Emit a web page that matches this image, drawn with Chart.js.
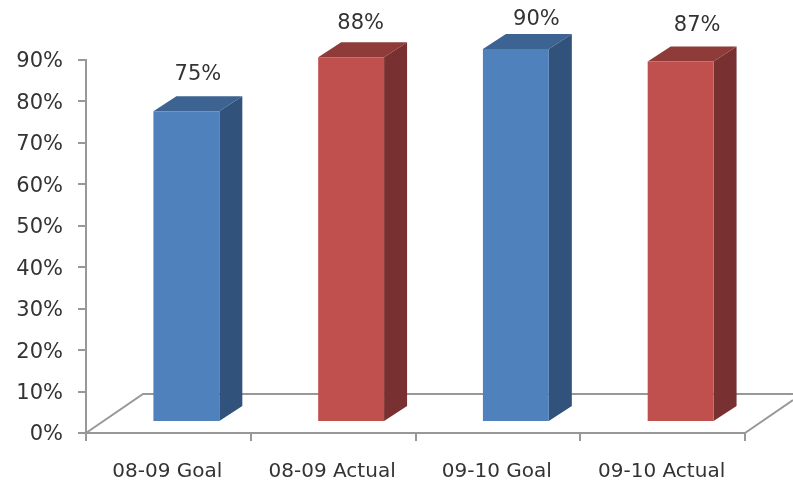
<!DOCTYPE html>
<html lang="en">
<head>
    <meta charset="UTF-8">
    <title>Goal vs Actual</title>
    <script src="https://cdn.jsdelivr.net/npm/chart.js@4/dist/chart.umd.min.js"></script>
    <style>
        html, body { margin: 0; padding: 0; background: #fff; }
        /* the reference is a soft, upscaled image */
        canvas { display: block; filter: blur(0.5px); }
    </style>
</head>
<body>
    <canvas id="goalChart" width="793" height="482"></canvas>
    <script>
        const categories = ['08-09 Goal', '08-09 Actual', '09-10 Goal', '09-10 Actual'];
        const values = [75, 88, 90, 87];
        const frontColors = ['#4f81bd', '#c0504d', '#4f81bd', '#c0504d'];
        const topColors = ['#3c6391', '#8f3b39', '#3c6391', '#8f3b39'];
        const sideColors = ['#31527a', '#783130', '#31527a', '#783130'];

        const textColor = '#333333';
        const axisColor = '#989898';
        const fontFamily = '"DejaVu Sans", sans-serif';

        // bars sit a little inside the floor, so the whole dataset is shifted
        const barShiftX = 18;
        const barShiftY = -11;
        const depthX = 23;
        const depthY = -15;
        const floorX = 57;
        const floorY = -39;
        // small per-label nudges seen in the picture
        const labelNudgeX = [-8, -10, 1, -3];
        const labelNudgeY = [-2, 1, 6, -1];

        function face(ctx, color, points) {
            ctx.fillStyle = color;
            ctx.beginPath();
            points.forEach((p, i) => i ? ctx.lineTo(p[0], p[1]) : ctx.moveTo(p[0], p[1]));
            ctx.closePath();
            ctx.fill();
        }

        const box3d = {
            id: 'box3d',
            beforeDatasetsDraw(chart) {
                // floor of the 3D box
                const { ctx, chartArea, width } = chart;
                const left = chartArea.left, right = chartArea.right, bottom = chartArea.bottom;
                ctx.save();
                ctx.strokeStyle = axisColor;
                ctx.lineWidth = 2;
                ctx.beginPath();
                ctx.moveTo(left, bottom);
                ctx.lineTo(left + floorX, bottom + floorY);
                ctx.lineTo(width, bottom + floorY);
                ctx.moveTo(right, bottom);
                ctx.lineTo(width, bottom + floorY * (width - right) / floorX);
                ctx.stroke();
                ctx.restore();
            },
            beforeDatasetDraw(chart, args) {
                const ctx = chart.ctx;
                ctx.save();
                ctx.translate(barShiftX, barShiftY);
                args.meta.data.forEach((bar, i) => {
                    const l = bar.x - bar.width / 2;
                    const r = bar.x + bar.width / 2;
                    face(ctx, topColors[i], [[l, bar.y], [r, bar.y], [r + depthX, bar.y + depthY], [l + depthX, bar.y + depthY]]);
                    face(ctx, sideColors[i], [[r, bar.y], [r + depthX, bar.y + depthY], [r + depthX, bar.base + depthY], [r, bar.base]]);
                });
            },
            afterDatasetDraw(chart) {
                chart.ctx.restore();
            },
            afterDatasetsDraw(chart) {
                const ctx = chart.ctx;
                ctx.save();
                ctx.fillStyle = textColor;
                ctx.font = '21px ' + fontFamily;
                ctx.textAlign = 'center';
                ctx.textBaseline = 'middle';
                chart.getDatasetMeta(0).data.forEach((bar, i) => {
                    ctx.fillText(values[i] + '%',
                        bar.x + barShiftX + depthX / 2 + labelNudgeX[i] + 8,
                        bar.y + barShiftY - 35 + labelNudgeY[i]);
                });
                ctx.restore();
            }
        };

        new Chart(document.getElementById('goalChart'), {
            type: 'bar',
            data: {
                labels: categories,
                datasets: [{
                    data: values,
                    backgroundColor: frontColors,
                    borderWidth: 0,
                    barPercentage: 0.4,
                    categoryPercentage: 1,
                    clip: false
                }]
            },
            options: {
                responsive: false,
                animation: false,
                layout: { padding: { top: 60, right: 48, left: 0, bottom: 0 } },
                plugins: { legend: { display: false }, tooltip: { enabled: false } },
                scales: {
                    x: {
                        afterFit(scale) { scale.height = 49; },
                        border: { color: axisColor, width: 2 },
                        grid: { drawOnChartArea: false, color: axisColor, lineWidth: 2, tickLength: 8 },
                        ticks: { color: textColor, font: { family: fontFamily, size: 20 }, padding: 19, labelOffset: -1, maxRotation: 0, autoSkip: false }
                    },
                    y: {
                        min: 0,
                        max: 90,
                        afterFit(scale) { scale.width = 86; },
                        border: { color: axisColor, width: 2 },
                        grid: { drawOnChartArea: false, color: axisColor, lineWidth: 2, tickLength: 8 },
                        ticks: { stepSize: 10, color: textColor, font: { family: fontFamily, size: 21 }, padding: 15, labelOffset: 2, callback: v => v + '%' }
                    }
                }
            },
            plugins: [box3d]
        });
    </script>
</body>
</html>
